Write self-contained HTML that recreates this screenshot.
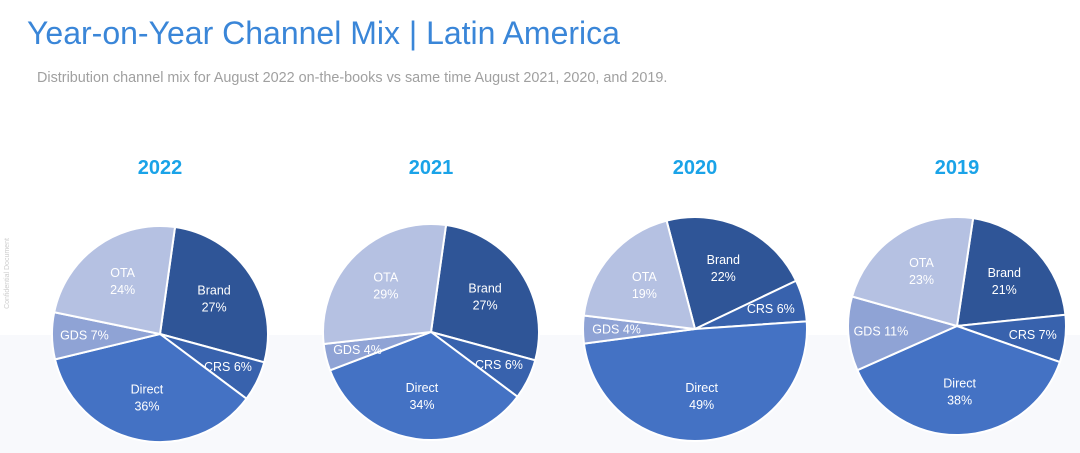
<!DOCTYPE html>
<html><head><meta charset="utf-8"><style>
body{margin:0;width:1080px;height:453px;overflow:hidden;background:#fff;font-family:"Liberation Sans",sans-serif;position:relative}
#band{position:absolute;left:0;top:335px;width:1080px;height:118px;background:#f8f9fc}
#title{position:absolute;left:27px;top:15px;font-size:32px;color:#3a86d8;font-weight:normal;letter-spacing:0px;white-space:nowrap}
#sub{position:absolute;left:37px;top:70px;font-size:14.4px;color:#a0a0a0;white-space:nowrap;letter-spacing:0px}
#conf{position:absolute;left:-28px;top:270px;font-size:7px;color:#ccc;transform:rotate(-90deg);white-space:nowrap}
svg{position:absolute;left:0;top:0}
</style></head><body>
<div id="band"></div>
<div id="title">Year-on-Year Channel Mix | Latin America</div>
<div id="sub">Distribution channel mix for August 2022 on-the-books vs same time August 2021, 2020, and 2019.</div>
<div id="conf">Confidential Document</div>
<svg id="chart" width="1080" height="453"></svg>
<script>
const years=["2022","2021","2020","2019"];
const channels=["Brand","CRS","Direct","GDS","OTA"];
const values2022=[27,6,36,7,24];
const values2021=[27,6,34,4,29];
const values2020=[22,6,49,4,19];
const values2019=[21,7,38,11,23];
const allValues=[values2022,values2021,values2020,values2019];
const colors=["#2f5597","#3862ad","#4472c4","#8fa3d5","#b5c1e2"];
const layout=[{cx:160,cy:334,r:108,start:8},{cx:431,cy:332,r:108,start:8},{cx:695,cy:329,r:112,start:-14.7},{cx:957,cy:326,r:109,start:8.5}];
const NS="http://www.w3.org/2000/svg";
const svg=document.getElementById('chart');
function pt(cx,cy,r,deg){const a=deg*Math.PI/180;return [cx+r*Math.sin(a),cy-r*Math.cos(a)];}
years.forEach((y,i)=>{
  const L=layout[i],vals=allValues[i];
  const total=vals.reduce((a,b)=>a+b,0);
  const t=document.createElementNS(NS,'text');
  
  
  t.setAttribute('x',L.cx);t.setAttribute('y',174);t.setAttribute('text-anchor','middle');
  t.setAttribute('font-size','20');t.setAttribute('font-weight','bold');t.setAttribute('fill','#1aa3e8');
  t.textContent=y;svg.appendChild(t);
  let ang=L.start;
  vals.forEach((v,j)=>{
    const sweep=v/total*360;
    const p1=pt(L.cx,L.cy,L.r,ang),p2=pt(L.cx,L.cy,L.r,ang+sweep);
    const path=document.createElementNS(NS,'path');
    
    
    path.setAttribute('d',`M${L.cx},${L.cy} L${p1[0]},${p1[1]} A${L.r},${L.r} 0 ${sweep>180?1:0} 1 ${p2[0]},${p2[1]} Z`);
    path.setAttribute('fill',colors[j]);path.setAttribute('stroke','#fff');path.setAttribute('stroke-width','2');
    svg.appendChild(path);
    const mid=ang+sweep/2;
    const small=v<12;
    const lp=pt(L.cx,L.cy,L.r*(small?0.7:0.6),mid);
    const lab=document.createElementNS(NS,'text');
    
    
    lab.setAttribute('text-anchor','middle');lab.setAttribute('font-size','12.5');lab.setAttribute('fill','#fff');
    if(small){lab.setAttribute('x',lp[0]);lab.setAttribute('y',lp[1]+4);lab.textContent=channels[j]+' '+v+'%';}
    else{
      const a=document.createElementNS(NS,'tspan');a.setAttribute('x',lp[0]);a.setAttribute('y',lp[1]-4);a.textContent=channels[j];
      const b=document.createElementNS(NS,'tspan');b.setAttribute('x',lp[0]);b.setAttribute('y',lp[1]+13);b.textContent=v+'%';
      lab.appendChild(a);lab.appendChild(b);
    }
    svg.appendChild(lab);
    ang+=sweep;
  });
});
</script>
</body></html>
